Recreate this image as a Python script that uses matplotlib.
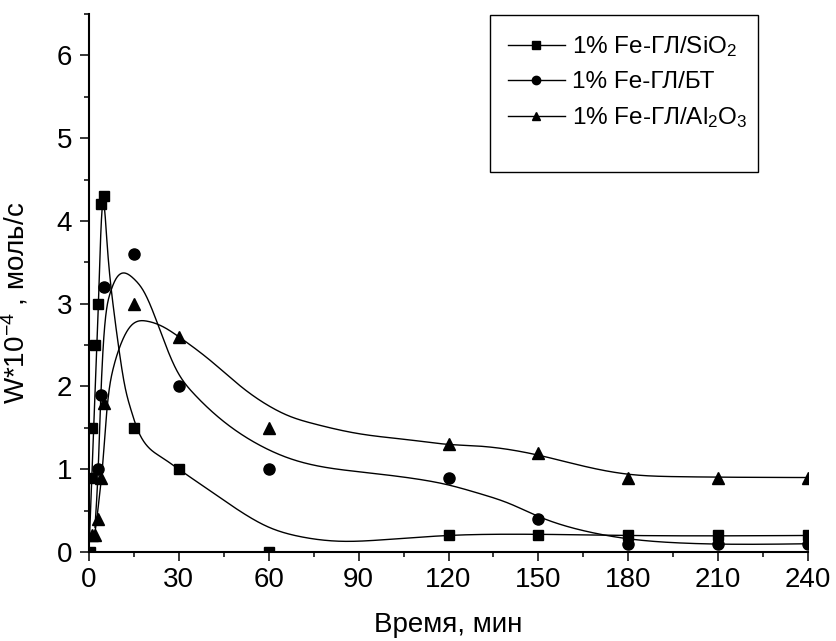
import numpy as np
import matplotlib
matplotlib.use("Agg")
import matplotlib.pyplot as plt
from matplotlib.ticker import MultipleLocator
from matplotlib.patches import Rectangle

plt.rcParams['font.family'] = ['Liberation Sans', 'DejaVu Sans']
plt.rcParams['mathtext.fontset'] = 'custom'
plt.rcParams['mathtext.rm'] = 'Liberation Sans'
plt.rcParams['mathtext.default'] = 'regular'

# measured points, time in min, W*10^-4 mol/s
t_sio2 = [0.3, 0.7, 1, 2, 3, 4, 5, 15, 30, 60, 120, 150, 180, 210, 240]
w_sio2 = [0.0, 0.9, 1.5, 2.5, 3.0, 4.2, 4.3, 1.5, 1.0, 0.0, 0.2, 0.2, 0.2, 0.2, 0.2]

t_bt = [3, 4, 5, 15, 30, 60, 120, 150, 180, 210, 240]
w_bt = [1.0, 1.9, 3.2, 3.6, 2.0, 1.0, 0.9, 0.4, 0.1, 0.1, 0.1]

t_al = [1, 2, 3, 4, 5, 15, 30, 60, 120, 150, 180, 210, 240]
w_al = [0.2, 0.2, 0.4, 0.9, 1.8, 3.0, 2.6, 1.5, 1.3, 1.2, 0.9, 0.9, 0.9]

# smoothed curves (nodes of the fitted line)
fit_t_sio2 = [0, 1.5, 3, 4.5, 6, 8, 10, 12, 14, 16, 19, 24, 30, 40, 51, 60, 70, 84, 97, 120,
              140, 180, 240]
fit_w_sio2 = [0, 1.4, 2.85, 4.19, 3.75, 3.0, 2.45, 2.0, 1.72, 1.5, 1.3, 1.15, 1.0, 0.75, 0.48,
              0.3, 0.19, 0.13, 0.145, 0.2, 0.215, 0.2, 0.2]

fit_t_bt = [2, 3.1, 4, 5.3, 7, 9, 12, 15, 18.1, 23.7, 29.2, 34.8, 45.9, 57, 67, 75, 90, 108,
            120, 130, 140, 150, 166, 180, 197, 240]
fit_w_bt = [0.3, 1.03, 1.92, 2.75, 3.12, 3.3, 3.37, 3.3, 3.16, 2.68, 2.2, 1.92, 1.55, 1.29,
            1.13, 1.05, 0.97, 0.89, 0.81, 0.71, 0.59, 0.43, 0.25, 0.16, 0.11, 0.1]

fit_t_al = [1, 2, 3.1, 4.6, 5.9, 8.1, 10.3, 13.7, 19.2, 24.8, 30, 40.3, 51.4, 60.3, 67, 75,
            90, 108, 120, 130, 150, 166, 180, 197, 240]
fit_w_al = [0.18, 0.25, 0.55, 1.07, 1.68, 2.22, 2.48, 2.72, 2.79, 2.72, 2.6, 2.32, 1.98, 1.76,
            1.64, 1.55, 1.43, 1.35, 1.30, 1.28, 1.17, 1.03, 0.94, 0.91, 0.9]

labels = ['1% Fe-ГЛ/SiO$_2$', '1% Fe-ГЛ/БТ', '1% Fe-ГЛ/Al$_2$O$_3$']


def spline(x, y, xn):
    # natural cubic spline through the nodes
    x = np.asarray(x, float)
    y = np.asarray(y, float)
    n = len(x)
    h = np.diff(x)
    A = np.zeros((n, n))
    b = np.zeros(n)
    A[0, 0] = A[-1, -1] = 1
    for k in range(1, n - 1):
        A[k, k - 1] = h[k - 1]
        A[k, k] = 2 * (h[k - 1] + h[k])
        A[k, k + 1] = h[k]
        b[k] = 6 * ((y[k + 1] - y[k]) / h[k] - (y[k] - y[k - 1]) / h[k - 1])
    M = np.linalg.solve(A, b)
    i = np.clip(np.searchsorted(x, xn) - 1, 0, n - 2)
    a = x[i + 1] - xn
    c = xn - x[i]
    return (M[i] * a**3 / (6 * h[i]) + M[i + 1] * c**3 / (6 * h[i])
            + (y[i] / h[i] - M[i] * h[i] / 6) * a + (y[i + 1] / h[i] - M[i + 1] * h[i] / 6) * c)


fig = plt.figure(figsize=(8.37, 6.41), dpi=100)
ax = fig.add_axes([0.1063, 0.1388, 0.8592, 0.8394])

series = [
    (t_sio2, w_sio2, fit_t_sio2, fit_w_sio2, 's', 7),
    (t_bt, w_bt, fit_t_bt, fit_w_bt, 'o', 8),
    (t_al, w_al, fit_t_al, fit_w_al, '^', 8.5),
]
for (t, w, ft, fw, mk, ms), lab in zip(series, labels):
    xs = np.linspace(ft[0], ft[-1], 3000)
    ax.plot(xs, spline(ft, fw, xs), color='black', lw=1.0)
    ax.plot(t, w, linestyle='none', marker=mk, ms=ms, color='black')
    ax.plot([], [], color='black', lw=1.0, marker=mk, ms=ms * 0.75, label=lab)

ax.set_xlim(0, 240)
ax.set_ylim(0, 6.5)
ax.xaxis.set_major_locator(MultipleLocator(30))
ax.xaxis.set_minor_locator(MultipleLocator(15))
ax.yaxis.set_major_locator(MultipleLocator(1))
ax.yaxis.set_minor_locator(MultipleLocator(0.5))
ax.spines['top'].set_visible(False)
ax.spines['right'].set_visible(False)
for s in ('left', 'bottom'):
    ax.spines[s].set_linewidth(1.5)
ax.tick_params(which='major', direction='out', length=6.5, width=1.1, labelsize=20)
ax.tick_params(axis='y', which='major', pad=5.5)
ax.tick_params(axis='x', which='major', pad=4)
ax.tick_params(which='minor', direction='out', length=3.5, width=1.1)

ax.set_xlabel('Время, мин', fontsize=20, labelpad=14)
ax.set_ylabel('W*10$^{-4}$ , моль/с', fontsize=20)
ax.yaxis.set_label_coords(-0.082, 0.463)

box = Rectangle((0.5854, 0.7317), 0.3202, 0.2449, transform=fig.transFigure,
                fill=False, edgecolor='black', lw=1.0)
fig.patches.append(box)
fig.legend(loc='upper left', bbox_to_anchor=(0.595, 0.962), frameon=False,
           fontsize=17.5, handlelength=2.35, handletextpad=0.3, labelspacing=0.5,
           borderaxespad=0)

fig.savefig('out.png', dpi=100)
